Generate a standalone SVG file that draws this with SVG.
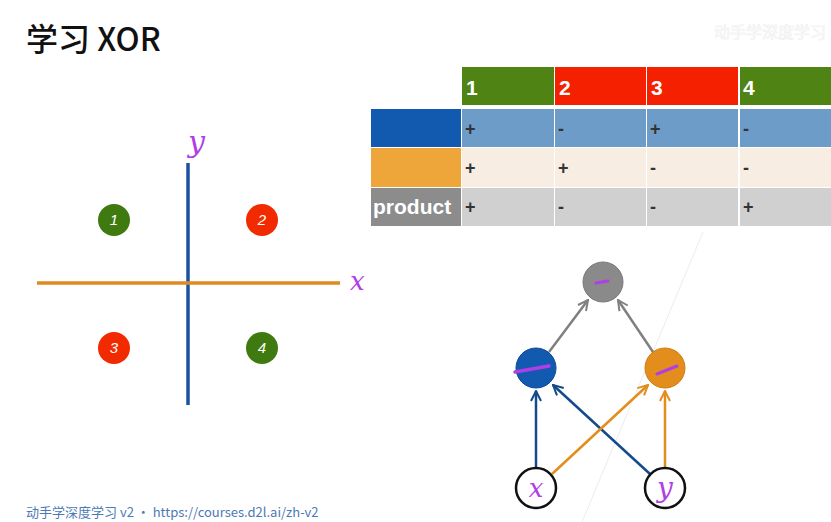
<svg xmlns="http://www.w3.org/2000/svg" width="831" height="522" viewBox="0 0 831 522">
<defs>
<style>
.title{font-family:"Noto Sans CJK SC","Noto Sans",sans-serif;font-size:32px;font-weight:500;fill:#111}
.hdr{font-family:"Liberation Sans",Arial,sans-serif;font-size:21px;font-weight:bold;fill:#fff}
.sign{font-family:"Liberation Sans",Arial,sans-serif;font-size:18px;font-weight:bold;fill:#333}
.num{font-family:"Liberation Sans",Arial,sans-serif;font-size:15px;font-style:italic;fill:#fff;text-anchor:middle}
.hand{font-family:"DejaVu Serif",serif;font-style:italic;fill:#b03ee6}
.foot{font-family:"Noto Sans CJK SC","Noto Sans",sans-serif;font-size:13px;fill:#4b7ab5}
.conn{fill:none;stroke-width:2.5}
.mark{stroke:#b03ee6;stroke-linecap:round;fill:none}
</style>
<marker id="ag" viewBox="0 0 10 10" refX="9" refY="5" markerWidth="5" markerHeight="5" orient="auto" markerUnits="strokeWidth"><path d="M1,1 L9,5 L1,9" fill="none" stroke="#808080" stroke-width="1.6"/></marker>
<marker id="ab" viewBox="0 0 10 10" refX="9" refY="5" markerWidth="5" markerHeight="5" orient="auto" markerUnits="strokeWidth"><path d="M1,1 L9,5 L1,9" fill="none" stroke="#134a8c" stroke-width="1.6"/></marker>
<marker id="ao" viewBox="0 0 10 10" refX="9" refY="5" markerWidth="5" markerHeight="5" orient="auto" markerUnits="strokeWidth"><path d="M1,1 L9,5 L1,9" fill="none" stroke="#e38d1c" stroke-width="1.6"/></marker>
</defs>
<rect width="831" height="522" fill="#fff"/>
<text class="title" x="26" y="51">学习 XOR</text>
<text x="714" y="38" font-family="Noto Sans CJK SC,sans-serif" font-size="16" fill="none" stroke="#f0f0f0" stroke-width="0.7">动手学深度学习</text>

<g id="table">
<rect x="462" y="67" width="92" height="38" fill="#4f8313"/>
<rect x="555" y="67" width="91" height="38" fill="#f52000"/>
<rect x="647" y="67" width="91" height="38" fill="#f52000"/>
<rect x="740" y="67" width="91" height="38" fill="#4f8313"/>
<text class="hdr" x="466" y="95">1</text>
<text class="hdr" x="559" y="95">2</text>
<text class="hdr" x="651" y="95">3</text>
<text class="hdr" x="743" y="95">4</text>
<rect x="371" y="109" width="90" height="38" fill="#1259b0"/>
<rect x="462" y="109" width="92" height="38" fill="#6d9cc8"/>
<rect x="555" y="109" width="91" height="38" fill="#6d9cc8"/>
<rect x="647" y="109" width="91" height="38" fill="#6d9cc8"/>
<rect x="740" y="109" width="91" height="38" fill="#6d9cc8"/>
<rect x="371" y="148" width="90" height="39" fill="#eea63a"/>
<rect x="462" y="148" width="92" height="39" fill="#f8ede2"/>
<rect x="555" y="148" width="91" height="39" fill="#f8ede2"/>
<rect x="647" y="148" width="91" height="39" fill="#f8ede2"/>
<rect x="740" y="148" width="91" height="39" fill="#f8ede2"/>
<rect x="371" y="188" width="90" height="38" fill="#8c8c8c"/>
<rect x="462" y="188" width="92" height="38" fill="#d0d0d0"/>
<rect x="555" y="188" width="91" height="38" fill="#d0d0d0"/>
<rect x="647" y="188" width="91" height="38" fill="#d0d0d0"/>
<rect x="740" y="188" width="91" height="38" fill="#d0d0d0"/>
<text class="hdr" x="373" y="214" font-size="19">product</text>
<text class="sign" x="465" y="135">+</text>
<text class="sign" x="558" y="135">-</text>
<text class="sign" x="650" y="135">+</text>
<text class="sign" x="743" y="135">-</text>
<text class="sign" x="465" y="174">+</text>
<text class="sign" x="558" y="174">+</text>
<text class="sign" x="650" y="174">-</text>
<text class="sign" x="743" y="174">-</text>
<text class="sign" x="465" y="213">+</text>
<text class="sign" x="558" y="213">-</text>
<text class="sign" x="650" y="213">-</text>
<text class="sign" x="743" y="213">+</text>
</g>

<g id="plot">
<line x1="188" y1="163" x2="188" y2="405" stroke="#1a52a0" stroke-width="3.5"/>
<line x1="37" y1="283" x2="340" y2="283" stroke="#e08a20" stroke-width="3.5"/>
<text class="hand" x="188" y="152" font-size="30">y</text>
<text class="hand" x="350" y="290" font-size="26">x</text>
</g>
<g id="p1"><circle cx="114" cy="220" r="16" fill="#3f7a10"/><text class="num" x="114" y="225">1</text></g>
<g id="p2"><circle cx="262" cy="220" r="16" fill="#f22a00"/><text class="num" x="262" y="225">2</text></g>
<g id="p3"><circle cx="114" cy="348" r="16" fill="#f22a00"/><text class="num" x="114" y="353">3</text></g>
<g id="p4"><circle cx="262" cy="348" r="16" fill="#3f7a10"/><text class="num" x="262" y="353">4</text></g>

<line x1="703" y1="232" x2="582" y2="522" stroke="#ececec" stroke-width="1"/>

<g id="connectors">
<line class="conn" x1="549" y1="352" x2="588" y2="300" stroke="#808080" marker-end="url(#ag)"/>
<line class="conn" x1="653" y1="352" x2="618" y2="300" stroke="#808080" marker-end="url(#ag)"/>
<line class="conn" x1="536" y1="467" x2="536" y2="391" stroke="#134a8c" marker-end="url(#ab)"/>
<line class="conn" x1="650" y1="474" x2="553" y2="385" stroke="#134a8c" marker-end="url(#ab)"/>
<line class="conn" x1="552" y1="474" x2="648" y2="385" stroke="#e38d1c" marker-end="url(#ao)"/>
<line class="conn" x1="665" y1="467" x2="665" y2="391" stroke="#e38d1c" marker-end="url(#ao)"/>
</g>

<g id="n-out"><circle cx="603" cy="282" r="20" fill="#8a8a8a" stroke="#7a7a7a" stroke-width="1"/><path class="mark" d="M596,283 L608,281" stroke-width="3"/></g>
<g id="n-blue"><circle cx="536" cy="368" r="20" fill="#1259b0" stroke="#0f4a90" stroke-width="1"/><path class="mark" d="M515,372 L549,366" stroke-width="3.5"/></g>
<g id="n-orange"><circle cx="665" cy="368" r="20" fill="#e38d1c" stroke="#d07f15" stroke-width="1"/><path class="mark" d="M657,374 L677,366" stroke-width="3"/></g>
<g id="n-x"><circle cx="536" cy="488" r="20" fill="#fff" stroke="#111" stroke-width="2.5"/><text class="hand" x="536" y="497" font-size="26" text-anchor="middle">x</text></g>
<g id="n-y"><circle cx="665" cy="488" r="20" fill="#fff" stroke="#111" stroke-width="2.5"/><text class="hand" x="665" y="497" font-size="28" text-anchor="middle">y</text></g>

<text class="foot" x="26" y="517">动手学深度学习 v2 • https://courses.d2l.ai/zh-v2</text>
</svg>
